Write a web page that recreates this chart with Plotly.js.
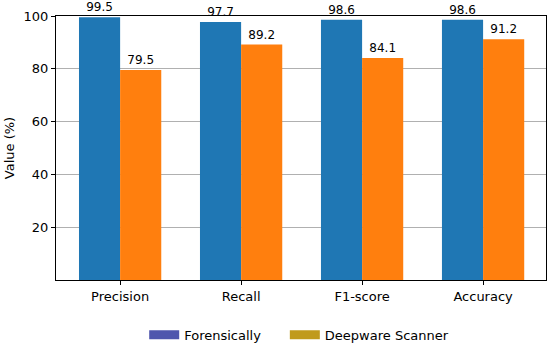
<!DOCTYPE html>
<html><head><meta charset="utf-8">
<script src="https://cdn.plot.ly/plotly-3.0.1.min.js"></script>
<style>html,body{margin:0;padding:0;background:#fff}</style>
</head><body><div id="chart" style="width:550px;height:347px"></div>
<script>
const categories = ["Precision", "Recall", "F1-score", "Accuracy"];
const forensically = [99.5, 97.7, 98.6, 98.6];
const deepware = [79.5, 89.2, 84.1, 91.2];
const seriesNames = ["Forensically", "Deepware Scanner"];
const yTicks = [20, 40, 60, 80, 100];

const font = {family: "DejaVu Sans", size: 13, color: "#000"};
const idx = categories.map((_, i) => i);

const traces = [
  {type: "bar", x: idx, y: forensically, marker: {color: "#1f77b4"}, showlegend: false,
   text: forensically.map(v => v.toFixed(1)), textposition: "outside", cliponaxis: false,
   textfont: {family: "DejaVu Sans", size: 12, color: "#000"}, offset: -0.34, width: 0.34},
  {type: "bar", x: idx, y: deepware, marker: {color: "#ff7f0e"}, showlegend: false,
   text: deepware.map(v => v.toFixed(1)), textposition: "outside", cliponaxis: false,
   textfont: {family: "DejaVu Sans", size: 12, color: "#000"}, offset: 0, width: 0.34},
  {type: "scatter", mode: "lines", x: [null], y: [null], name: seriesNames[0],
   line: {color: "#4f56ad", width: 9}, legend: "legend"},
  {type: "scatter", mode: "lines", x: [null], y: [null], name: seriesNames[1],
   line: {color: "#c09a1c", width: 9}, legend: "legend2"}
];

const legendBase = {orientation: "h", xanchor: "left", y: -0.208, yanchor: "middle",
  font: font, itemwidth: 30, bgcolor: "rgba(0,0,0,0)"};

const layout = {
  width: 550, height: 347,
  margin: {l: 56, r: 4, t: 16, b: 67, autoexpand: false},
  paper_bgcolor: "#fff", plot_bgcolor: "#fff",
  font: font,
  barmode: "overlay",
  xaxis: {
    range: [-0.53, 3.52], tickvals: idx, ticktext: categories,
    ticks: "outside", ticklen: 4, tickcolor: "#000",
    showline: true, linecolor: "#000", linewidth: 1, mirror: true,
    showgrid: false, zeroline: false, tickfont: font
  },
  yaxis: {
    range: [0, 100], tickvals: yTicks,
    ticks: "outside", ticklen: 4, tickcolor: "#000",
    showline: true, linecolor: "#000", linewidth: 1, mirror: true,
    showgrid: true, gridcolor: "#b0b0b0", gridwidth: 1, zeroline: false,
    tickfont: font,
    title: {text: "Value (%)", font: font, standoff: 6}
  },
  showlegend: true,
  legend: Object.assign({}, legendBase, {x: 0.18}),
  legend2: Object.assign({}, legendBase, {x: 0.467})
};

Plotly.newPlot("chart", traces, layout, {displayModeBar: false, staticPlot: true});
</script></body></html>
